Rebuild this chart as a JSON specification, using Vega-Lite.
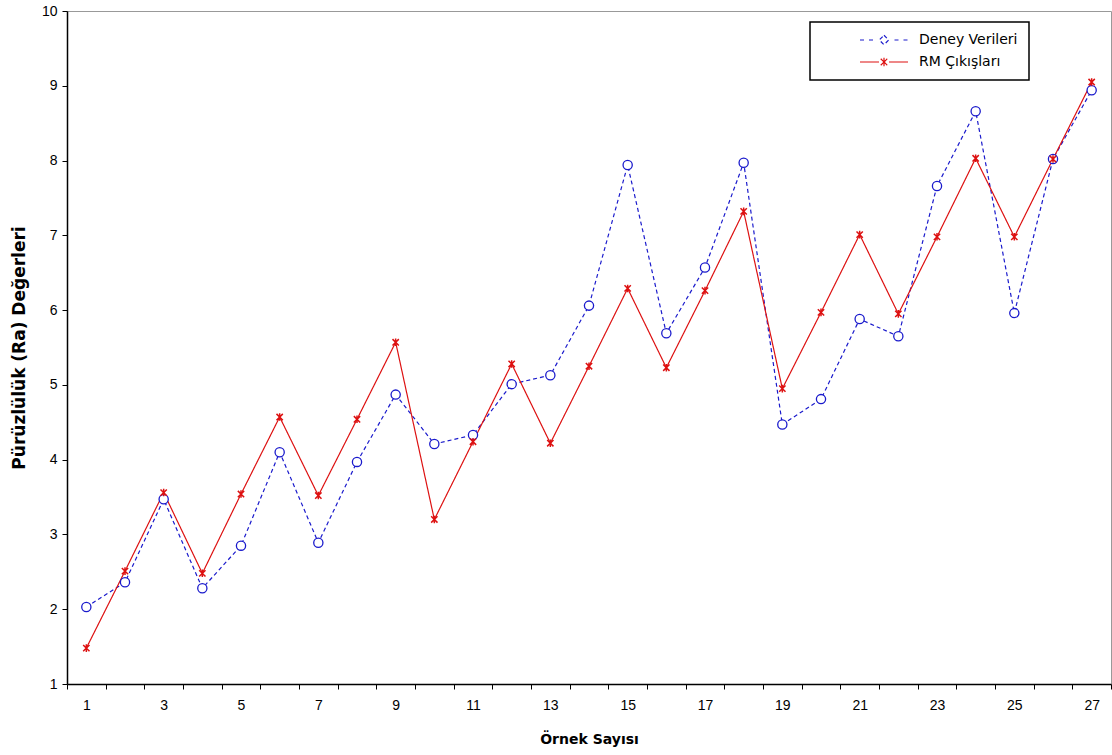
{
  "$schema": "https://vega.github.io/schema/vega-lite/v6.json",
  "width": 1044,
  "height": 673,
  "autosize": {"type": "none"},
  "padding": {"left": 67, "top": 11, "right": 1, "bottom": 71},
  "background": "white",
  "config": {
    "font": "Liberation Sans",
    "view": {"stroke": "#999999", "strokeWidth": 1}
  },
  "data": {
    "values": [
      {"n": 1, "series": "Deney Verileri", "v": 2.03}, {"n": 2, "series": "Deney Verileri", "v": 2.36},
      {"n": 3, "series": "Deney Verileri", "v": 3.47}, {"n": 4, "series": "Deney Verileri", "v": 2.28},
      {"n": 5, "series": "Deney Verileri", "v": 2.85}, {"n": 6, "series": "Deney Verileri", "v": 4.10},
      {"n": 7, "series": "Deney Verileri", "v": 2.89}, {"n": 8, "series": "Deney Verileri", "v": 3.97},
      {"n": 9, "series": "Deney Verileri", "v": 4.87}, {"n": 10, "series": "Deney Verileri", "v": 4.21},
      {"n": 11, "series": "Deney Verileri", "v": 4.33}, {"n": 12, "series": "Deney Verileri", "v": 5.01},
      {"n": 13, "series": "Deney Verileri", "v": 5.13}, {"n": 14, "series": "Deney Verileri", "v": 6.06},
      {"n": 15, "series": "Deney Verileri", "v": 7.94}, {"n": 16, "series": "Deney Verileri", "v": 5.69},
      {"n": 17, "series": "Deney Verileri", "v": 6.57}, {"n": 18, "series": "Deney Verileri", "v": 7.97},
      {"n": 19, "series": "Deney Verileri", "v": 4.47}, {"n": 20, "series": "Deney Verileri", "v": 4.81},
      {"n": 21, "series": "Deney Verileri", "v": 5.88}, {"n": 22, "series": "Deney Verileri", "v": 5.65},
      {"n": 23, "series": "Deney Verileri", "v": 7.66}, {"n": 24, "series": "Deney Verileri", "v": 8.66},
      {"n": 25, "series": "Deney Verileri", "v": 5.96}, {"n": 26, "series": "Deney Verileri", "v": 8.02},
      {"n": 27, "series": "Deney Verileri", "v": 8.94},
      {"n": 1, "series": "RM Çıkışları", "v": 1.48}, {"n": 2, "series": "RM Çıkışları", "v": 2.51},
      {"n": 3, "series": "RM Çıkışları", "v": 3.56}, {"n": 4, "series": "RM Çıkışları", "v": 2.48},
      {"n": 5, "series": "RM Çıkışları", "v": 3.54}, {"n": 6, "series": "RM Çıkışları", "v": 4.57},
      {"n": 7, "series": "RM Çıkışları", "v": 3.52}, {"n": 8, "series": "RM Çıkışları", "v": 4.54},
      {"n": 9, "series": "RM Çıkışları", "v": 5.57}, {"n": 10, "series": "RM Çıkışları", "v": 3.20},
      {"n": 11, "series": "RM Çıkışları", "v": 4.24}, {"n": 12, "series": "RM Çıkışları", "v": 5.28},
      {"n": 13, "series": "RM Çıkışları", "v": 4.22}, {"n": 14, "series": "RM Çıkışları", "v": 5.25},
      {"n": 15, "series": "RM Çıkışları", "v": 6.29}, {"n": 16, "series": "RM Çıkışları", "v": 5.23},
      {"n": 17, "series": "RM Çıkışları", "v": 6.26}, {"n": 18, "series": "RM Çıkışları", "v": 7.32},
      {"n": 19, "series": "RM Çıkışları", "v": 4.95}, {"n": 20, "series": "RM Çıkışları", "v": 5.97},
      {"n": 21, "series": "RM Çıkışları", "v": 7.01}, {"n": 22, "series": "RM Çıkışları", "v": 5.95},
      {"n": 23, "series": "RM Çıkışları", "v": 6.98}, {"n": 24, "series": "RM Çıkışları", "v": 8.03},
      {"n": 25, "series": "RM Çıkışları", "v": 6.98}, {"n": 26, "series": "RM Çıkışları", "v": 8.02},
      {"n": 27, "series": "RM Çıkışları", "v": 9.05}
    ]
  },
  "encoding": {
    "x": {
      "field": "n",
      "type": "ordinal",
      "bandPosition": 0.5,
      "scale": {"type": "band", "paddingInner": 0, "paddingOuter": 0},
      "title": "Örnek Sayısı",
      "axis": {
        "tickBand": "extent",
        "labelAngle": 0,
        "labelExpr": "datum.value % 2 == 1 ? datum.label : ''",
        "labelFont": "Liberation Sans",
        "labelFontSize": 14,
        "labelColor": "#000000",
        "labelPadding": 9,
        "tickColor": "#000000",
        "tickSize": 5,
        "domainColor": "#000000",
        "domainWidth": 1.5,
        "titleFont": "DejaVu Sans",
        "titleFontSize": 14,
        "titleFontWeight": "bold",
        "titleColor": "#000000",
        "titlePadding": 20,
        "grid": false
      }
    },
    "y": {
      "field": "v",
      "type": "quantitative",
      "scale": {"domain": [1, 10], "nice": false, "zero": false},
      "title": "Pürüzlülük (Ra) Değerleri",
      "axis": {
        "values": [1, 2, 3, 4, 5, 6, 7, 8, 9, 10],
        "labelFont": "Liberation Sans",
        "labelFontSize": 14,
        "labelColor": "#000000",
        "labelPadding": 5,
        "tickColor": "#000000",
        "tickSize": 5,
        "domainColor": "#000000",
        "domainWidth": 1.5,
        "titleFont": "DejaVu Sans",
        "titleFontSize": 17,
        "titleFontWeight": "bold",
        "titleColor": "#000000",
        "titlePadding": 13,
        "grid": false
      }
    }
  },
  "layer": [
    {
      "mark": {"type": "line", "strokeWidth": 1.2},
      "encoding": {
        "color": {
          "field": "series",
          "type": "nominal",
          "scale": {"domain": ["Deney Verileri", "RM Çıkışları"], "range": ["#1a1acc", "#dd1111"]},
          "legend": {
            "title": null,
            "orient": "none",
            "legendX": 743,
            "legendY": 11,
            "padding": 11,
            "strokeColor": "#000000",
            "fillColor": "white",
            "symbolSize": 100,
            "symbolStrokeWidth": 1.2,
            "symbolOffset": 56,
            "labelOffset": 28,
            "labelFont": "DejaVu Sans",
            "labelFontSize": 14,
            "labelColor": "#000000",
            "rowPadding": 7,
            "labelLimit": 400,
            "encode": {
              "symbols": {
                "update": {
                  "shape": {"signal": "datum.value == 'Deney Verileri' ? 'M-4.8,0L-3.9,0M-3,0L-2.1,0M2.1,0L3,0M3.9,0L4.8,0M0,-0.95L0.95,0L0,0.95L-0.95,0Z' : 'M-4.8,0L-1,0M1,0L4.8,0M-0.65,-0.65L0.65,0.65M-0.65,0.65L0.65,-0.65M0,-0.85L0,0.85'"},
                  "fill": {"value": "transparent"},
                  "strokeDash": {"value": [1, 0]}
                }
              },
              "legend": {"update": {"strokeWidth": {"value": 1.5}}}
            }
          }
        },
        "strokeDash": {
          "field": "series",
          "type": "nominal",
          "scale": {"domain": ["Deney Verileri", "RM Çıkışları"], "range": [[4, 3], [1, 0]]},
          "legend": null
        }
      }
    },
    {
      "transform": [{"filter": "datum.series == 'Deney Verileri'"}],
      "mark": {"type": "point", "shape": "circle", "filled": false, "fill": "white", "fillOpacity": 1, "stroke": "#1a1acc", "strokeWidth": 1.3, "size": 85, "opacity": 1}
    },
    {
      "transform": [{"filter": "datum.series == 'RM Çıkışları'"}],
      "mark": {"type": "point", "shape": "M-1,-1L1,1M-1,1L1,-1M0,-1.2L0,1.2", "filled": false, "stroke": "#dd1111", "strokeWidth": 1.5, "size": 40, "opacity": 1}
    }
  ]
}
